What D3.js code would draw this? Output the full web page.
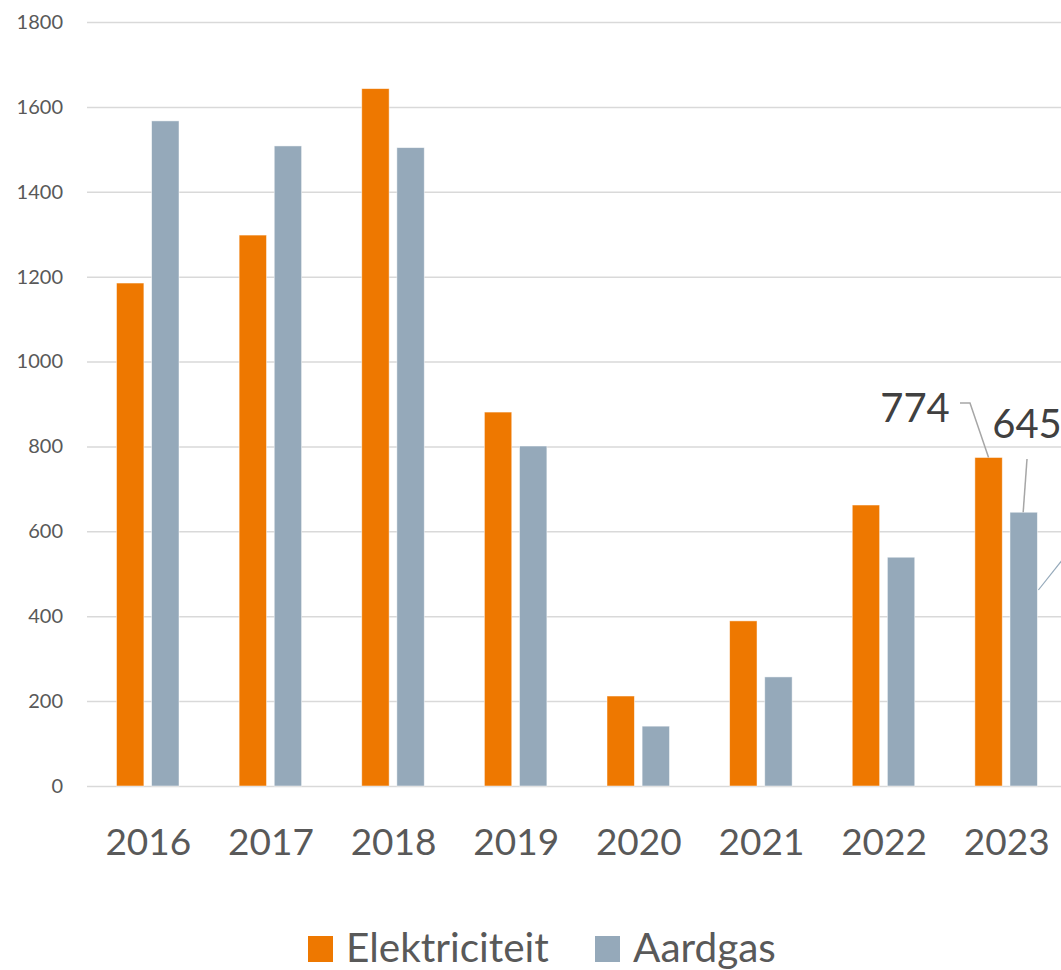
<!DOCTYPE html>
<html>
<head>
<meta charset="utf-8">
<script src="https://cdn.jsdelivr.net/npm/d3@7"></script>
<style>
  body { margin: 0; background: #fff; }
  svg { display: block; font-family: Lato, "Open Sans", sans-serif; }
</style>
</head>
<body>
<svg width="1061" height="970"></svg>
<script>
const years = ["2016", "2017", "2018", "2019", "2020", "2021", "2022", "2023"];
const series = ["Elektriciteit", "Aardgas"];
const elektriciteit = [1185, 1298, 1643, 881, 212, 389, 662, 774];
const aardgas = [1567, 1508, 1504, 801, 141, 257, 539, 645];
const yTicks = [0, 200, 400, 600, 800, 1000, 1200, 1400, 1600, 1800];
const colors = { Elektriciteit: "#ee7800", Aardgas: "#95a9ba" };

const svg = d3.select("svg");

const rows = years.map((year, i) => ({
  year,
  values: [
    { key: "Elektriciteit", value: elektriciteit[i] },
    { key: "Aardgas", value: aardgas[i] }
  ]
}));

const margin = { left: 87, top: 22, bottom: 786 };
const plotRight = 1068;

const xScale = d3.scaleBand().domain(years).range([margin.left, plotRight]);
const xInner = d3
  .scaleBand()
  .domain(series)
  .range([29.5, 92])
  .paddingInner(0.22);
const yScale = d3.scaleLinear().domain([0, 1800]).range([margin.bottom, margin.top]);

// gridlines + y labels
const yAxis = d3
  .axisLeft(yScale)
  .tickValues(yTicks)
  .tickFormat(d3.format("d"))
  .tickSize(-(plotRight - margin.left))
  .tickPadding(24);

const yAxisGroup = svg
  .append("g")
  .attr("transform", `translate(${margin.left},0)`)
  .call(yAxis);
yAxisGroup.select(".domain").remove();
yAxisGroup.selectAll(".tick line").attr("stroke", "#d9d9d9").attr("stroke-width", 1.5);
yAxisGroup
  .selectAll(".tick text")
  .attr("fill", "#595959")
  .attr("font-size", 20)
  .attr("font-family", "Lato, sans-serif");

// bars
const groups = svg
  .selectAll(".year")
  .data(rows)
  .enter()
  .append("g")
  .attr("class", "year")
  .attr("transform", (d) => `translate(${xScale(d.year)},0)`);

groups
  .selectAll("rect")
  .data((d) => d.values)
  .enter()
  .append("rect")
  .attr("x", (d) => xInner(d.key))
  .attr("width", xInner.bandwidth())
  .attr("y", (d) => yScale(d.value))
  .attr("height", (d) => yScale(0) - yScale(d.value))
  .attr("fill", (d) => colors[d.key])
  .attr("stroke", "#ffffff")
  .attr("stroke-opacity", 0.6)
  .attr("stroke-width", 0.8);

// x labels
const xAxis = d3.axisBottom(xScale).tickSize(0).tickPadding(0);
const xAxisGroup = svg
  .append("g")
  .attr("transform", `translate(0,${margin.bottom})`)
  .call(xAxis);
xAxisGroup.select(".domain").remove();
xAxisGroup
  .selectAll(".tick text")
  .attr("fill", "#595959")
  .attr("font-size", 37)
  .attr("font-family", "Lato, sans-serif")
  .attr("dy", null)
  .attr("y", 69);

// data labels for last year, with leader lines
const last = rows[rows.length - 1];
const barTop = (d) => [
  xScale(last.year) + xInner(d.key) + xInner.bandwidth() / 2,
  yScale(d.value)
];
const labelSpots = [
  { x: 915, y: 422, path: (p) => [[960, 403], [970, 403], p] },
  { x: 1027, y: 438, path: (p) => [[1027, 459], [p[0] - 0.5, p[1]]] }
];

last.values.forEach((d, i) => {
  const spot = labelSpots[i];
  svg
    .append("path")
    .attr("d", d3.line()(spot.path(barTop(d))))
    .attr("fill", "none")
    .attr("stroke", "#a6a6a6")
    .attr("stroke-width", 1.5);
  svg
    .append("text")
    .attr("x", spot.x)
    .attr("y", spot.y)
    .attr("text-anchor", "middle")
    .attr("fill", "#404040")
    .attr("font-size", 40)
    .text(d.value);
});

// leader of a label that falls outside the picture
svg
  .append("line")
  .attr("x1", xScale(last.year) + xInner("Aardgas") + xInner.bandwidth() + 1)
  .attr("y1", 590)
  .attr("x2", 1078)
  .attr("y2", 540)
  .attr("stroke", "#95a9ba")
  .attr("stroke-width", 1.2);

// legend
const legendItems = [
  { key: "Elektriciteit", x: 308 },
  { key: "Aardgas", x: 595 }
];
const legend = svg
  .selectAll(".legend")
  .data(legendItems)
  .enter()
  .append("g")
  .attr("class", "legend")
  .attr("transform", (d) => `translate(${d.x},936)`);
legend
  .append("rect")
  .attr("width", 25)
  .attr("height", 26)
  .attr("fill", (d) => colors[d.key]);
legend
  .append("text")
  .attr("x", 38)
  .attr("y", 26)
  .attr("fill", "#595959")
  .attr("font-size", 40.5)
  .text((d) => d.key);
</script>
</body>
</html>
